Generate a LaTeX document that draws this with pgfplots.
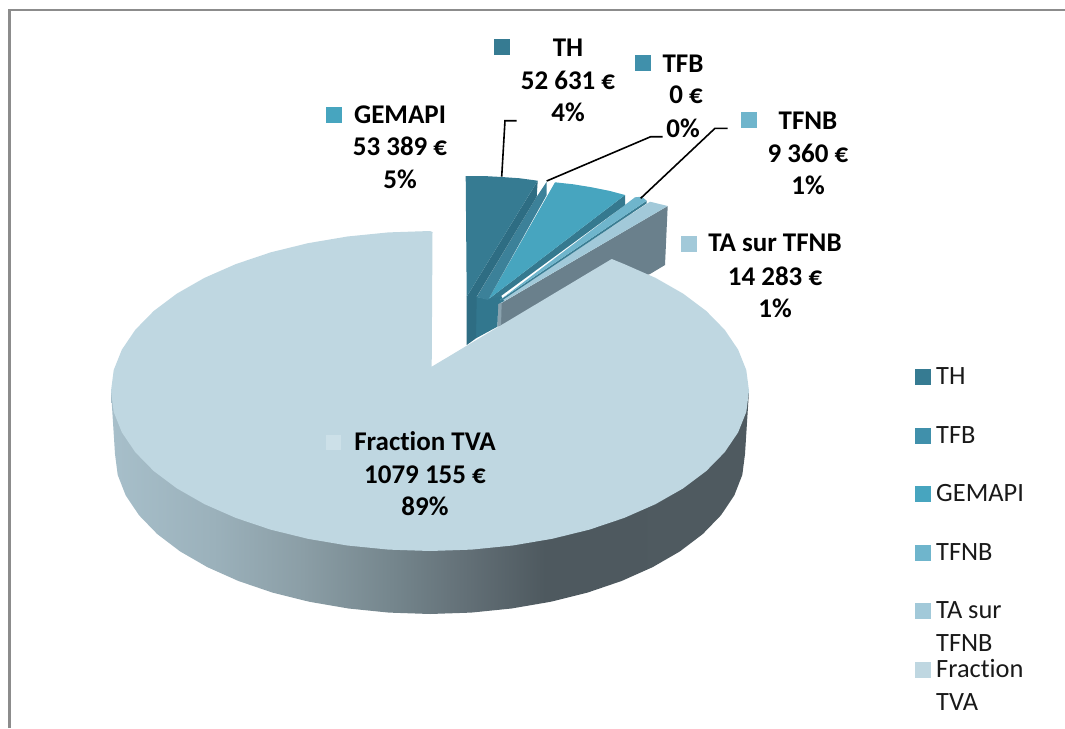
\documentclass[border=0pt]{standalone}
\usepackage{pgfplots}
\pgfplotsset{compat=1.18}
\usepackage{fontspec}
\setmainfont{Carlito}[Ligatures=NoCommon]
\definecolor{cTH}{HTML}{367B92}
\definecolor{cTHd}{HTML}{2E6D83}
\definecolor{cTFB}{HTML}{4090AB}
\definecolor{cTFBa}{HTML}{3C8199}
\definecolor{cTFBd}{HTML}{32778E}
\definecolor{cGE}{HTML}{47A5BF}
\definecolor{cGEd}{HTML}{35798F}
\definecolor{cNB}{HTML}{6FB5CC}
\definecolor{cNBd}{HTML}{3A7D93}
\definecolor{cTA}{HTML}{A2C9D9}
\definecolor{cTAd}{HTML}{6A808C}
\definecolor{cTAl}{HTML}{8AA2AE}
\definecolor{cFr}{HTML}{BFD7E1}
\definecolor{cFrm}{HTML}{CCE0E8}
\definecolor{frame}{HTML}{8C8C8C}
\definecolor{sa}{HTML}{A7BFCA}
\definecolor{sb}{HTML}{9BB1BB}
\definecolor{sc}{HTML}{8B9EA6}
\definecolor{sd}{HTML}{75868D}
\definecolor{se}{HTML}{626F76}
\definecolor{sf}{HTML}{4E595F}
\definecolor{sg}{HTML}{4F5A60}
\pgfdeclarehorizontalshading{pieside}{100bp}{
 color(0bp)=(sa);
 color(25bp)=(sa);
 color(33bp)=(sb);
 color(40bp)=(sc);
 color(47bp)=(sd);
 color(53bp)=(se);
 color(59bp)=(sf);
 color(75bp)=(sg);
 color(100bp)=(sg)}
\newcommand{\lab}[3]{\node[anchor=base,inner sep=0pt,font=\fontsize{27}{30}\selectfont\bfseries,text=black] at (axis cs:#1,#2) {#3};}
\newcommand{\leg}[2]{\node[anchor=base west,inner sep=0pt,font=\fontsize{26.4}{30}\selectfont,text=black!90] at (axis cs:936,#1) {#2};}
\begin{document}
\begin{tikzpicture}
\path[use as bounding box] (0,0) rectangle (1065pt,728pt);
\begin{axis}[at={(0,0)},anchor=south west,scale only axis,width=1065pt,height=728pt,
 xmin=0,xmax=1065,ymin=0,ymax=728,y dir=reverse,hide axis,clip=false]
% frame
\addplot[frame,line width=2.5pt] coordinates {(9.5,728) (9.5,10) (1065,10)};
% TA sur TFNB
\addplot[draw=none,fill=cTAd] coordinates {(501,303.3) (667.7,206) (665,265) (650,274) (498.3,326.7)} --cycle;
\addplot[draw=none,fill=cTAl] coordinates {(497.7,302.7) (501.7,302.7) (501,325) (497.3,326.7)} --cycle;
\addplot[draw=none,fill=cTA] coordinates {(650,201.7) (667.7,206) (501.7,302.7) (498,302)} --cycle;
% backing at the tips of the small slices
\addplot[draw=none,fill=cTFBd] coordinates {(486,299) (501,295.5) (504,301) (498,304)} --cycle;
% TFNB
\addplot[draw=none,fill=cNBd] coordinates {(646.7,200.7) (646.7,203.3) (500,301.7) (500,300)} --cycle;
\addplot[draw=none,fill=cNB] coordinates {(635,197.3) (641.7,196.7) (646.7,200.7) (500,300)} --cycle;
% GEMAPI
\addplot[draw=none,fill=cGEd] coordinates {(625,195) (625,205) (500,296.7) (488.3,299.3)} --cycle;
\addplot[draw=none,fill=cGE] coordinates {(555,182.3) (573.3,184.3) (591.7,187.3) (610,191) (625,195) (488.3,299.3)} --cycle;
% TFB
\addplot[draw=none,fill=cTFBd] coordinates {(476,296.7) (498.3,301.7) (497.3,326.7) (476,338.3)} --cycle;
\addplot[draw=none,fill=cTFBa] coordinates {(536.7,196.7) (546.7,181.7) (546.7,195) (488,300) (476.7,297)} --cycle;
% TH
\addplot[draw=none,fill=cTHd] coordinates {(537.7,180.7) (536.7,196.7) (476.7,296.7) (476,338.3) (466.7,345) (466.7,296.7)} --cycle;
\addplot[draw=none,fill=cTH] coordinates {(465.7,176) (483.3,176) (501.7,177) (520,178.3) (537.7,180.7) (466.7,296.7)} --cycle;
% side of the main slice
\addplot[draw=none,shading=pieside] coordinates {
(111,391) (115,454) (117.7,474.9) (125.7,495.4) (139,515.2) (157.2,534) (180.1,551.4) (207.3,567.1)
(238.2,580.9) (272.5,592.6) (309.5,601.8) (348.5,608.5) (388.9,612.6) (430,614) (471.1,612.6)
(511.5,608.5) (550.5,601.8) (587.5,592.6) (621.8,580.9) (652.7,567.1) (679.9,551.4) (702.8,534)
(721,515.2) (734.3,495.4) (742.3,474.9) (745,454) (749,391)} --cycle;
% top of the main slice
\addplot[draw=none,fill=cFr] coordinates {
(432.5,232) (430,231) (388.4,232.4) (347.4,236.5) (307.9,243.2) (270.5,252.4) (235.8,264.1) (204.4,277.9)
(176.9,293.6) (153.7,311) (135.3,329.8) (121.9,349.6) (113.7,370.1) (111,391) (113.7,411.9)
(121.9,432.4) (135.3,452.2) (153.7,471) (176.9,488.4) (204.4,504.1) (235.8,517.9) (270.5,529.6)
(307.9,538.8) (347.4,545.5) (388.4,549.6) (430,551) (471.6,549.6) (512.6,545.5) (552.1,538.8)
(589.5,529.6) (624.2,517.9) (655.6,504.1) (683.1,488.4) (706.3,471) (724.7,452.2) (738.1,432.4)
(746.3,411.9) (749,391) (746.3,370.1) (738.1,349.6) (724.7,329.8) (706.3,311) (683.1,293.6)
(655.6,277.9) (624.2,264.1) (611.7,259) (431.7,366.7)} --cycle;
% leader lines
\addplot[black,line width=1.6pt] coordinates {(501.7,176.7) (505,120.7) (516.7,120.7)};
\addplot[black,line width=1.6pt] coordinates {(546.7,181) (650.7,136.7) (662.7,136.7)};
\addplot[black,line width=1.6pt] coordinates {(640.7,198.3) (715,128.3) (727.7,128.3)};
% label keys
\addplot[only marks,cTH,mark=square*,mark size=7.5pt] coordinates {(501.5,46.5)};
\addplot[only marks,cTFB,mark=square*,mark size=7.5pt] coordinates {(642.5,62.5)};
\addplot[only marks,cGE,mark=square*,mark size=7.5pt] coordinates {(333.5,114.5)};
\addplot[only marks,cNB,mark=square*,mark size=7.5pt] coordinates {(748.5,119.2)};
\addplot[only marks,cTA,mark=square*,mark size=7.5pt] coordinates {(688.5,243.5)};
\addplot[only marks,cFrm,mark=square*,mark size=7pt] coordinates {(333.5,442.5)};
% legend keys
\addplot[only marks,cTH,mark=square*,mark size=7.5pt] coordinates {(922.5,376.5)};
\addplot[only marks,cTFB,mark=square*,mark size=7.5pt] coordinates {(922.5,435.5)};
\addplot[only marks,cGE,mark=square*,mark size=7.5pt] coordinates {(922.5,493.5)};
\addplot[only marks,cNB,mark=square*,mark size=7.5pt] coordinates {(922.5,552.5)};
\addplot[only marks,cTA,mark=square*,mark size=7.5pt] coordinates {(922.5,610.5)};
\addplot[only marks,cFr,mark=square*,mark size=7.5pt] coordinates {(922.5,669.5)};
% data labels
\lab{568}{56}{TH}\lab{568}{89}{52 631 €}\lab{568}{121}{4\%}
\lab{683}{72}{TFB}\lab{686}{103}{0 €}\lab{683}{137}{0\%}
\lab{400}{123}{GEMAPI}\lab{400}{155}{53 389 €}\lab{400}{188}{5\%}
\lab{808}{129}{TFNB}\lab{808}{162}{9 360 €}\lab{808}{194}{1\%}
\lab{775}{251}{TA sur TFNB}\lab{775}{285}{14 283 €}\lab{775}{317}{1\%}
\lab{425}{450}{Fraction TVA}\lab{425}{483}{1079 155 €}\lab{425}{515}{89\%}
% legend text
\leg{384}{TH}\leg{443}{TFB}\leg{501}{GEMAPI}\leg{560}{TFNB}
\leg{618}{TA sur}\leg{651}{TFNB}\leg{677}{Fraction}\leg{710}{TVA}
\end{axis}
\end{tikzpicture}
\end{document}
